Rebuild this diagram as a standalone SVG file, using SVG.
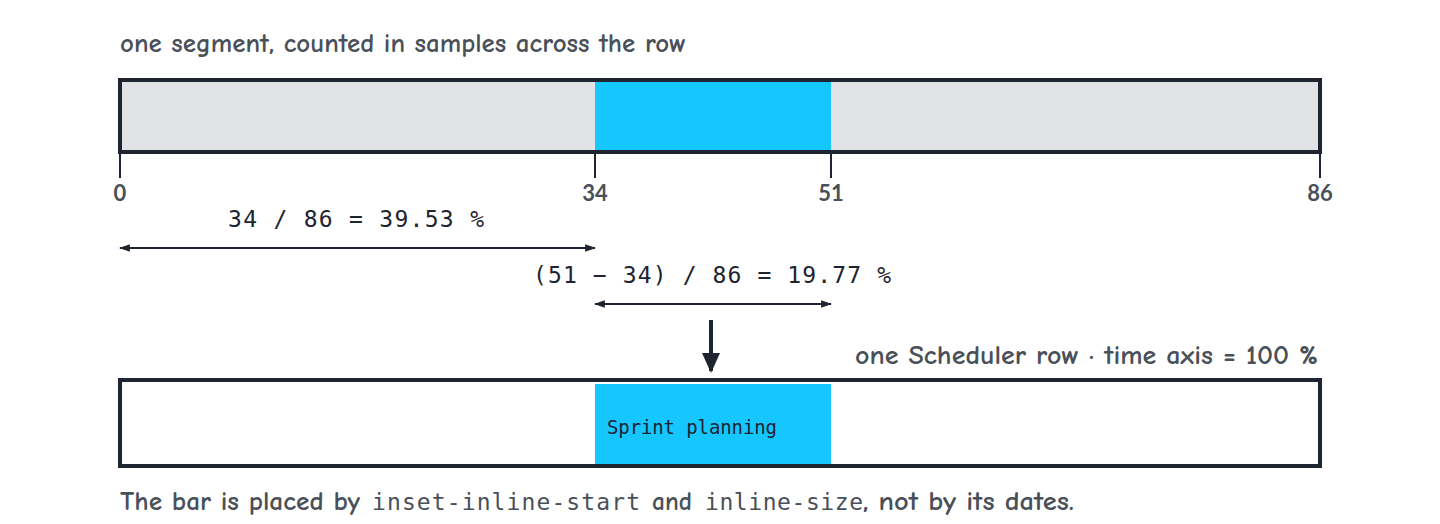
<svg xmlns="http://www.w3.org/2000/svg" width="1440" height="524" viewBox="0 0 1440 524">
<style>
.hand{font-family:"Comic Neue","Liberation Sans","DejaVu Sans",sans-serif;fill:#4a5059;font-size:26px;font-weight:700}
.mono{font-family:"DejaVu Sans Mono","Liberation Mono",monospace;fill:#1e2430;font-size:23px}
.cm{font-family:"DejaVu Sans Mono","Liberation Mono",monospace;fill:#4a5059;font-size:23px;font-weight:400}
.frame{fill:none;stroke:#1e2430;stroke-width:4}
.tick{stroke:#1e2430;stroke-width:2}
.tl{font-family:"Lato","Liberation Sans",sans-serif;fill:#4a5059;font-size:22px;font-weight:700;text-anchor:middle}
.dim{stroke:#1e2430;stroke-width:2;fill:none;marker-start:url(#ah);marker-end:url(#ah)}
</style>
<defs>
<marker id="ah" viewBox="0 0 10 10" refX="9" refY="5" markerWidth="11" markerHeight="11" orient="auto-start-reverse" markerUnits="userSpaceOnUse">
<path d="M0,1.5 L10,5 L0,8.5 Z" fill="#1e2430"/>
</marker>
<marker id="ah2" viewBox="0 0 10 10" refX="9" refY="5" markerWidth="20" markerHeight="20" orient="auto" markerUnits="userSpaceOnUse">
<path d="M0,0.5 L10,5 L0,9.5 Z" fill="#1e2430"/>
</marker>
</defs>
<rect width="1440" height="524" fill="#ffffff"/>
<g id="title">
<text class="hand" x="120" y="52" textLength="566" lengthAdjust="spacingAndGlyphs">one segment, counted in samples across the row</text>
</g>
<g id="sample-row">
<rect x="120" y="80" width="1200" height="72" fill="#e2e3e5"/>
<rect x="595" y="82" width="236" height="68" fill="#16c6ff"/>
<rect class="frame" x="120" y="80" width="1200" height="72"/>
</g>
<g id="axis">
<line class="tick" x1="120" y1="152" x2="120" y2="178"/>
<line class="tick" x1="595" y1="152" x2="595" y2="178"/>
<line class="tick" x1="831" y1="152" x2="831" y2="178"/>
<line class="tick" x1="1320" y1="152" x2="1320" y2="178"/>
<text class="tl" x="120" y="201">0</text>
<text class="tl" x="595" y="201">34</text>
<text class="tl" x="831" y="201">51</text>
<text class="tl" x="1320" y="201">86</text>
</g>
<g id="connectors">
<line class="dim" x1="120" y1="248" x2="595" y2="248"/>
<line class="dim" x1="595" y1="304" x2="831" y2="304"/>
<line x1="711" y1="320" x2="711" y2="371" stroke="#1e2430" stroke-width="4" marker-end="url(#ah2)"/>
</g>
<g id="calc-start">
<text class="mono" x="228" y="227" textLength="256" lengthAdjust="spacing">34 / 86 = 39.53 %</text>
</g>
<g id="calc-size">
<text class="mono" x="533" y="283" textLength="358" lengthAdjust="spacing">(51 − 34) / 86 = 19.77 %</text>
</g>
<g id="scheduler-label">
<text class="hand" x="855" y="364" textLength="463" lengthAdjust="spacingAndGlyphs">one Scheduler row · time axis = 100 %</text>
</g>
<g id="scheduler-row">
<rect x="120" y="380" width="1200" height="86" fill="#ffffff"/>
<rect x="595" y="384" width="236" height="80" fill="#16c6ff"/>
<rect class="frame" x="120" y="380" width="1200" height="86"/>
<text class="mono" x="607" y="434" style="font-size:19px" textLength="170" lengthAdjust="spacing">Sprint planning</text>
</g>
<g id="caption">
<text class="hand" x="120" y="510" textLength="240" lengthAdjust="spacingAndGlyphs">The bar is placed by</text>
<text class="cm" x="372" y="510" textLength="268" lengthAdjust="spacing">inset-inline-start</text>
<text class="hand" x="652" y="510" textLength="40" lengthAdjust="spacingAndGlyphs">and</text>
<text class="cm" x="705" y="510" textLength="158" lengthAdjust="spacing">inline-size</text>
<text class="hand" x="863" y="510" textLength="211" lengthAdjust="spacingAndGlyphs">, not by its dates.</text>
</g>
</svg>
